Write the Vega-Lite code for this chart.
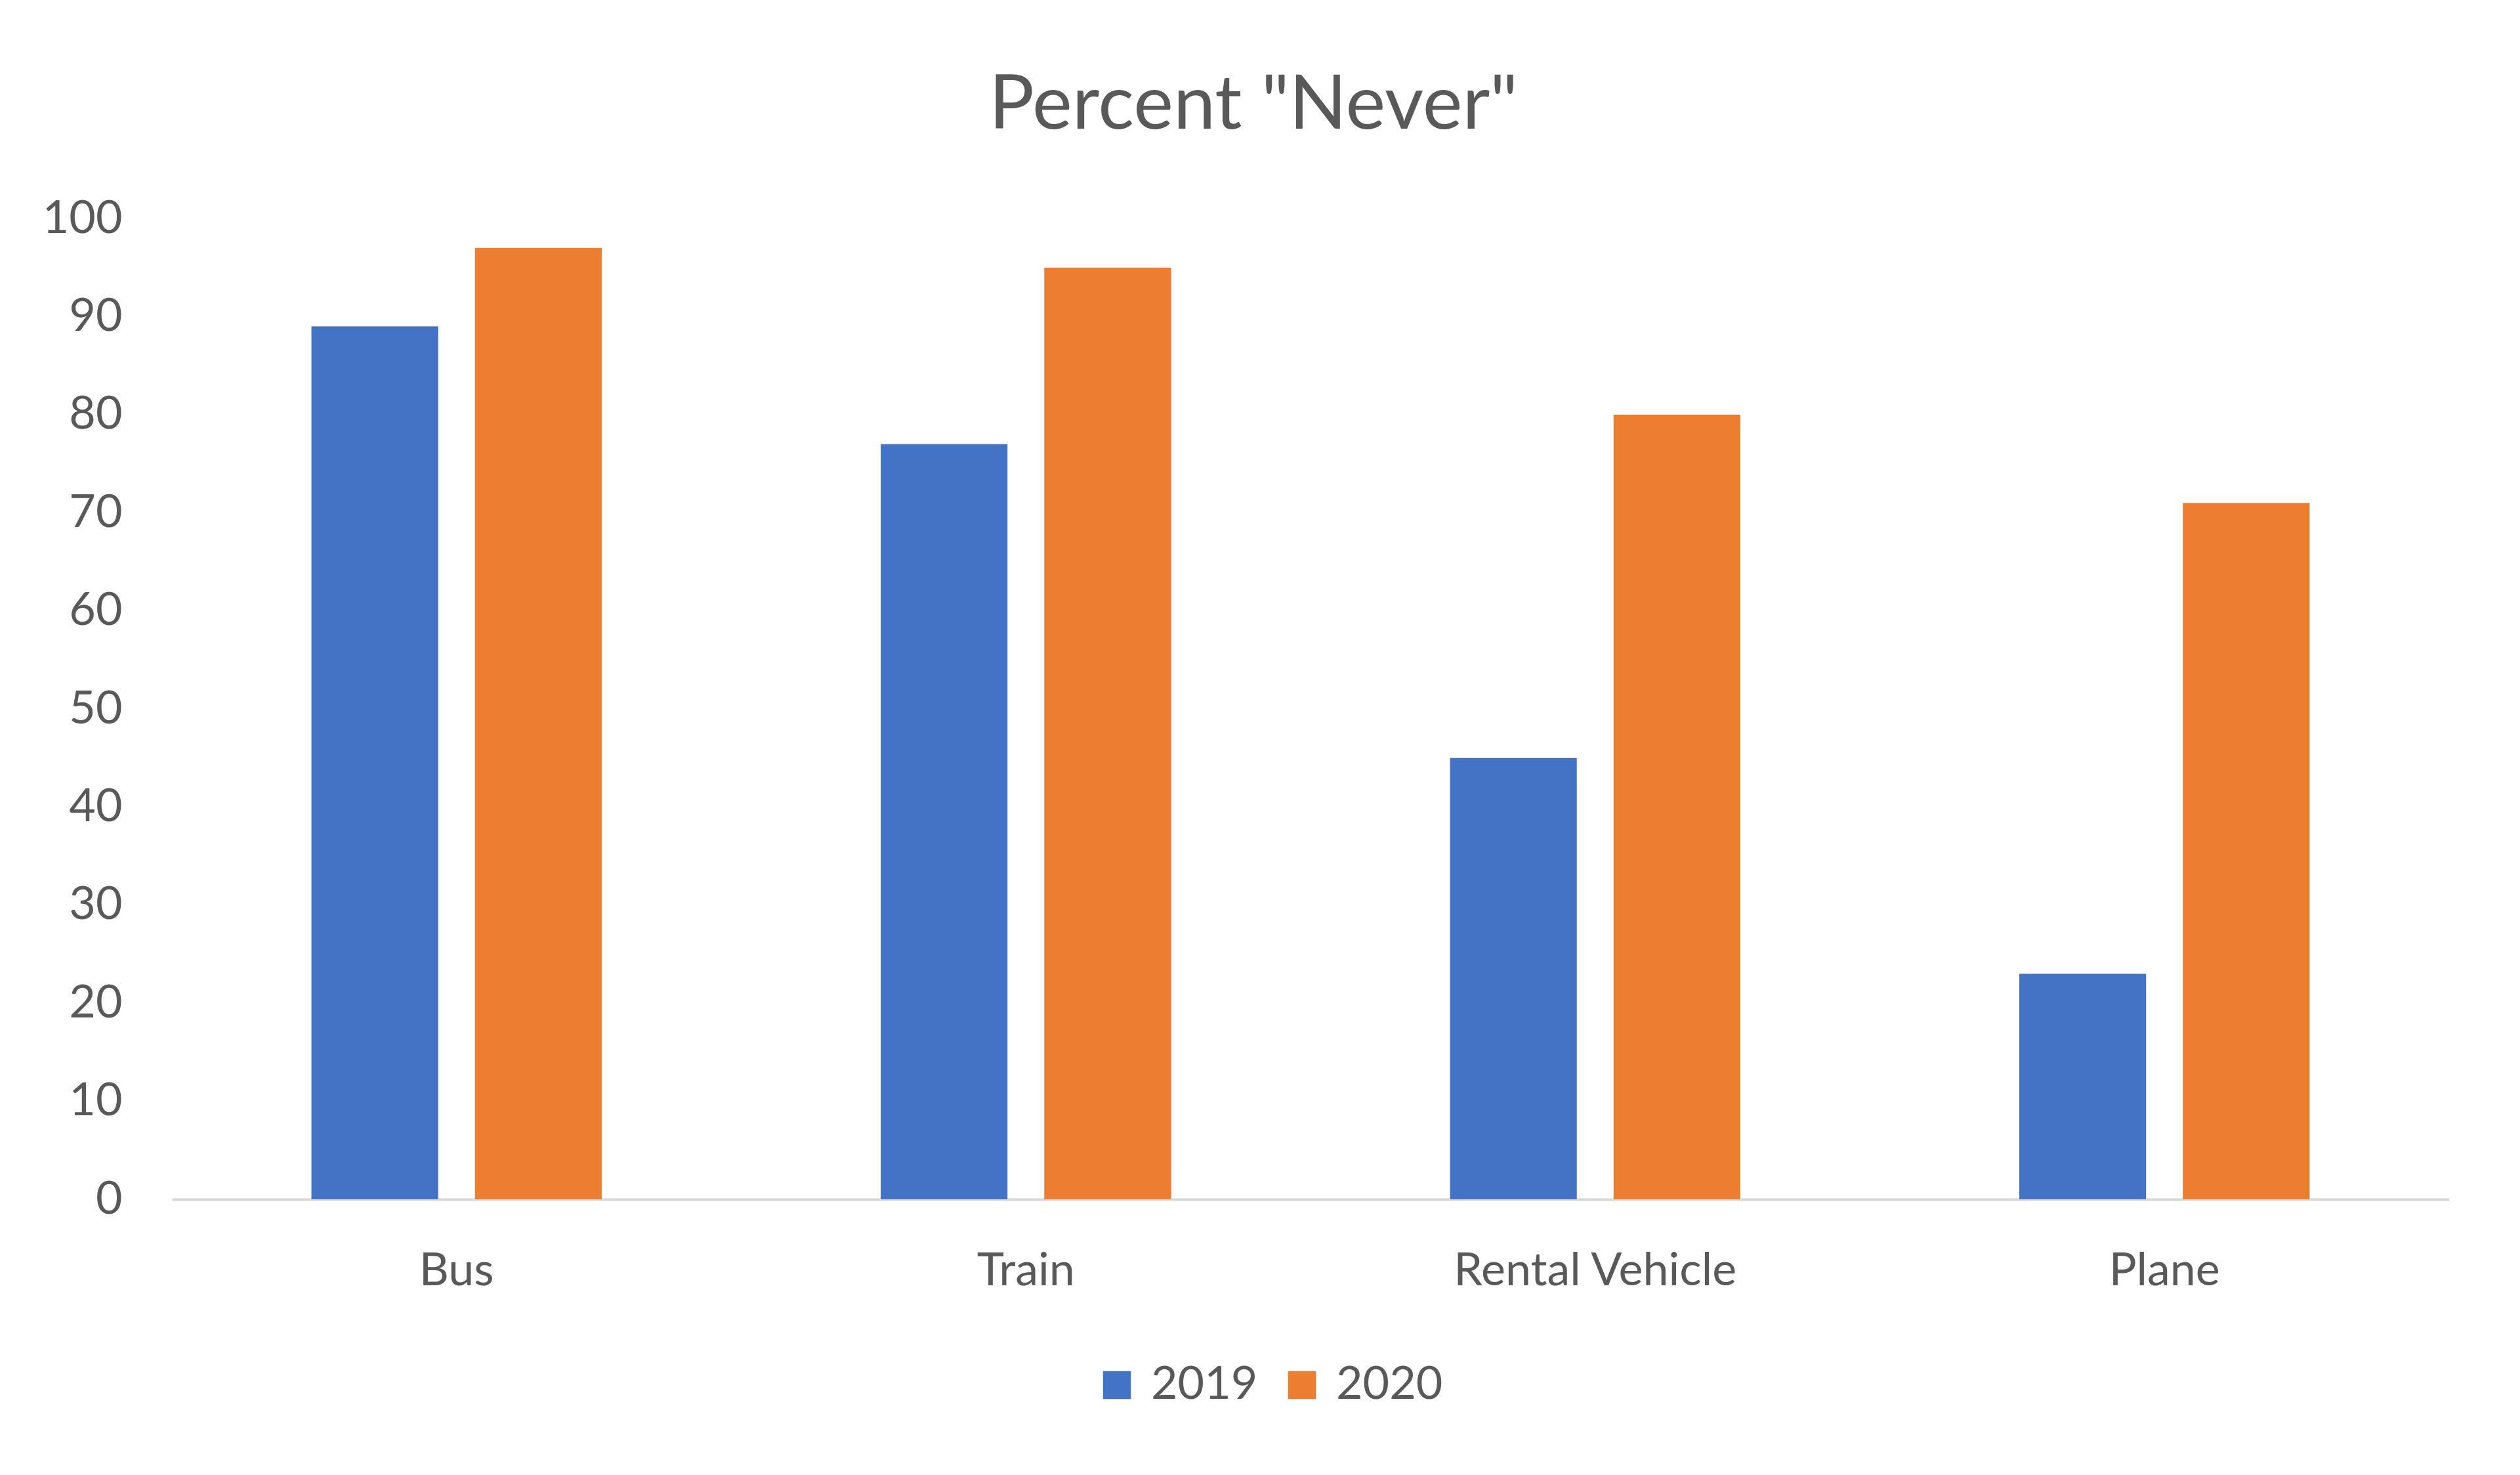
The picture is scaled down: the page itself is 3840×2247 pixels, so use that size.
{
  "$schema": "https://vega.github.io/schema/vega-lite/v6.json",
  "autosize": {"type": "none"},
  "width": 3470,
  "height": 1494,
  "padding": {"left": 262, "top": 333, "right": 108, "bottom": 420},
  "background": "white",
  "title": {
    "text": "Percent \"Never\"",
    "fontSize": 115,
    "font": "Lato",
    "fontWeight": "normal",
    "color": "#595959",
    "anchor": "middle",
    "frame": "group",
    "dx": -87,
    "offset": 78
  },
  "data": {
    "values": [
      {"mode": "Bus", "year": "2019", "pct": 89},
      {"mode": "Bus", "year": "2020", "pct": 97},
      {"mode": "Train", "year": "2019", "pct": 77},
      {"mode": "Train", "year": "2020", "pct": 95},
      {"mode": "Rental Vehicle", "year": "2019", "pct": 45},
      {"mode": "Rental Vehicle", "year": "2020", "pct": 80},
      {"mode": "Plane", "year": "2019", "pct": 23},
      {"mode": "Plane", "year": "2020", "pct": 71}
    ]
  },
  "mark": {"type": "bar"},
  "encoding": {
    "x": {
      "field": "mode",
      "type": "nominal",
      "sort": ["Bus", "Train", "Rental Vehicle", "Plane"],
      "scale": {"paddingInner": 0.49, "paddingOuter": 0.245},
      "axis": {
        "title": null,
        "labelAngle": 0,
        "labelFontSize": 70,
        "labelFont": "Lato",
        "labelColor": "#595959",
        "labelLimit": 0,
        "ticks": false,
        "tickSize": 0,
        "labelPadding": 75,
        "domainColor": "#D9D9D9",
        "domainWidth": 4,
        "grid": false
      }
    },
    "xOffset": {
      "field": "year",
      "type": "nominal",
      "scale": {"paddingInner": 0.225, "paddingOuter": 0}
    },
    "y": {
      "field": "pct",
      "type": "quantitative",
      "scale": {"domain": [0, 100], "nice": false},
      "axis": {
        "title": null,
        "values": [0, 10, 20, 30, 40, 50, 60, 70, 80, 90, 100],
        "labelFontSize": 70,
        "labelFont": "Lato",
        "labelColor": "#595959",
        "ticks": false,
        "tickSize": 0,
        "labelPadding": 76,
        "domain": false,
        "grid": false
      }
    },
    "color": {
      "field": "year",
      "type": "nominal",
      "scale": {"domain": ["2019", "2020"], "range": ["#4472C4", "#ED7D31"]},
      "legend": {
        "title": null,
        "orient": "none",
        "direction": "horizontal",
        "legendX": 1405,
        "legendY": 1742,
        "symbolType": "square",
        "symbolSize": 1800,
        "symbolStrokeWidth": 0,
        "labelFontSize": 70,
        "labelFont": "Lato",
        "labelColor": "#595959",
        "labelLimit": 0,
        "labelOffset": 17,
        "columnPadding": 32
      }
    }
  },
  "config": {"view": {"stroke": null}}
}
